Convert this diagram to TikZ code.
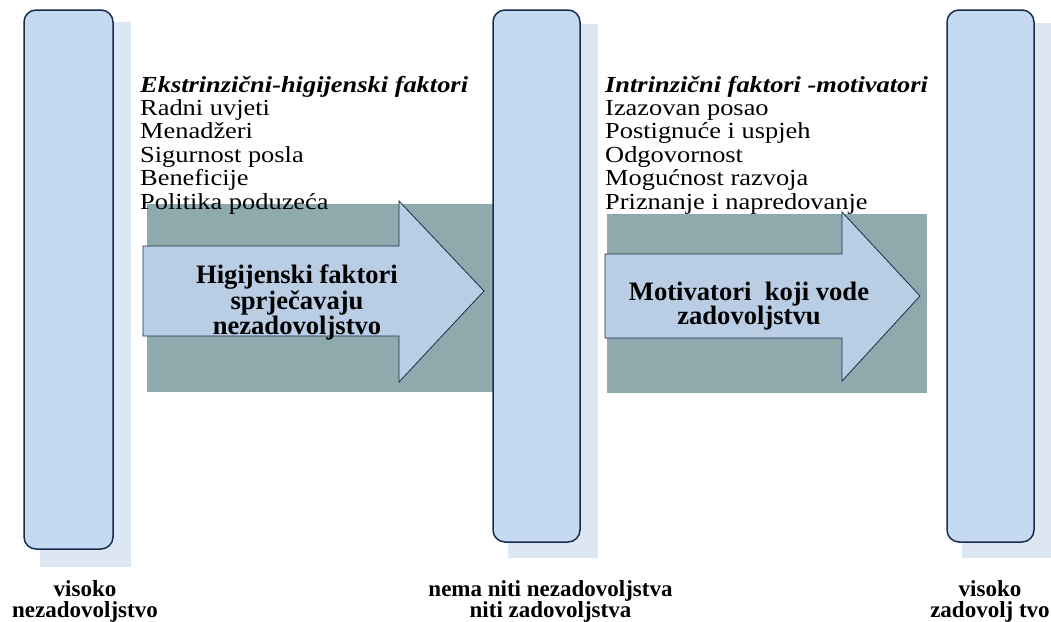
\documentclass[tikz,border=0pt]{standalone}
\usepackage{fontspec}
\setmainfont{Liberation Serif}
\newfontfamily\serifface{Liberation Serif}
\usetikzlibrary{positioning, calc}
\definecolor{barfill}{RGB}{197,217,241}
\definecolor{barline}{RGB}{22,44,78}
\definecolor{shadowfill}{RGB}{221,231,243}
\definecolor{tealfill}{RGB}{142,170,173}
\definecolor{arrowfill}{RGB}{185,205,229}
% list lines are set a little flatter than wide
\newcommand{\flatline}[1]{\scalebox{1}[0.87]{#1}}
\tikzset{
  bar/.style={draw=barline, line width=1.5pt, fill=barfill, rounded corners=12pt, inner sep=0pt},
  listtext/.style={anchor=base west, inner sep=0pt, font=\serifface\fontsize{26.4}{24}\selectfont},
  listhead/.style={listtext, font=\serifface\fontsize{26.4}{24}\selectfont\bfseries\itshape},
  arrowtext/.style={align=center, inner sep=0pt, font=\serifface\fontsize{26.6}{24.5}\selectfont\bfseries},
  endlabel/.style={align=center, inner sep=0pt, font=\serifface\fontsize{23}{21}\selectfont\bfseries}
}
\begin{document}
\begin{tikzpicture}[x=1pt, y=-1pt]
  \useasboundingbox (0,0) rectangle (1051,621);
  % Shadows behind the bars
  \fill[shadowfill] (40,22) rectangle (131,567);
  \fill[shadowfill] (508,24) rectangle (598,558);
  \fill[shadowfill] (962,23) rectangle (1051,558);
  % Teal panels
  \fill[tealfill] (147,204) rectangle (493,392);
  \fill[tealfill] (607,214) rectangle (927,393);
  % Factor lists
  \node[listhead] (exthead) at (140,92) {\flatline{Ekstrinzični-higijenski faktori}};
  \foreach \txt [count=\i] in {Radni uvjeti, Menadžeri, Sigurnost posla, Beneficije, Politika poduzeća}
    \node[listtext] (ext\i) at (140,92+23.4*\i) {\flatline{\txt}};
  \node[listhead] (inthead) at (605,92) {\flatline{Intrinzični faktori -motivatori}};
  \foreach \txt [count=\i] in {Izazovan posao, Postignuće i uspjeh, Odgovornost, Mogućnost razvoja, Priznanje i napredovanje}
    \node[listtext] (int\i) at (605,92+23.4*\i) {\flatline{\txt}};
  % Block arrows
  \draw[barline, line width=0.8pt, fill=arrowfill, line join=miter]
    (143,246) -- (399,246) -- (399,201) -- (484,291) -- (399,382) -- (399,336) -- (143,336) -- cycle;
  \draw[barline, line width=0.8pt, fill=arrowfill, line join=miter]
    (605,254) -- (842,254) -- (842,212) -- (920,296) -- (842,381) -- (842,338) -- (605,338) -- cycle;
  \node[arrowtext] (hyg) at (297,302.5) {Higijenski faktori\\sprječavaju\\nezadovoljstvo};
  \node[arrowtext] (mot) at (749,306) {Motivatori\ \ koji vode\\zadovoljstvu};
  % Bars
  \node[bar, minimum width=89pt, minimum height=539pt] (low) at (68.5,279.5) {};
  \node[bar, minimum width=87pt, minimum height=532pt] (mid) at (536.5,276) {};
  \node[bar, minimum width=87pt, minimum height=532pt] (high) at (990.5,276) {};
  % Labels under the bars
  \node[endlabel] (lowlab) at (85,601.4) {visoko\\nezadovoljstvo};
  \node[endlabel] (midlab) at (550.5,601.4) {nema niti nezadovoljstva\\niti zadovoljstva};
  \node[endlabel] (highlab) at (990,601.4) {visoko\\zadovolj tvo};
\end{tikzpicture}
\end{document}
